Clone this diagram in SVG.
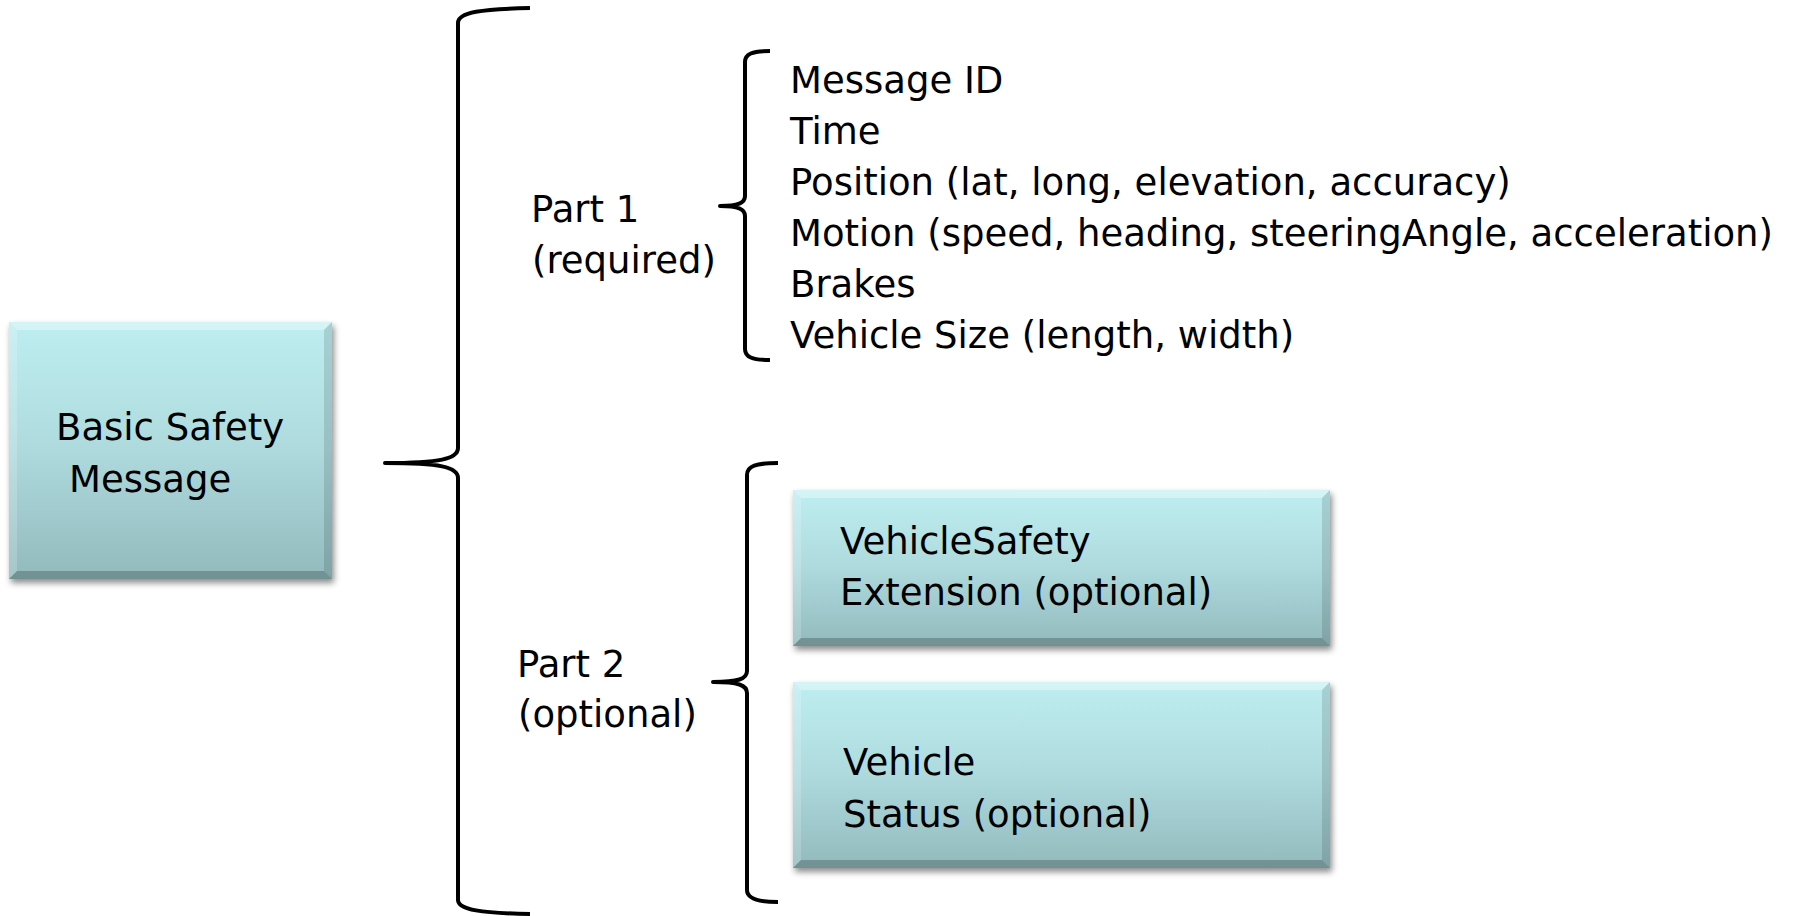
<svg xmlns="http://www.w3.org/2000/svg" width="1794" height="916" viewBox="0 0 1794 916">
  <defs>
    <linearGradient id="boxFill" x1="0" y1="0" x2="0" y2="1">
      <stop offset="0" stop-color="#BEEEF1"/>
      <stop offset="0.5" stop-color="#AEDADD"/>
      <stop offset="1" stop-color="#92BABD"/>
    </linearGradient>
    <filter id="shadow" x="-10%" y="-10%" width="120%" height="125%">
      <feDropShadow dx="2" dy="4" stdDeviation="3" flood-color="#000" flood-opacity="0.45"/>
    </filter>
  </defs>
  <style>
    .txt { font-family: "DejaVu Sans", Verdana, sans-serif; font-size: 37px; fill: #000; }
    .box { fill: url(#boxFill); filter: url(#shadow); }
    .bev-top { fill: #FFFFFF; fill-opacity: 0.35; }
    .bev-left { fill: #FFFFFF; fill-opacity: 0.18; }
    .bev-right { fill: #000000; fill-opacity: 0.12; }
    .bev-bottom { fill: #000000; fill-opacity: 0.22; }
    .brace { fill: none; stroke: #000; stroke-width: 4; stroke-linecap: butt; stroke-linejoin: round; }
  </style>
  <rect width="1794" height="916" fill="#FFFFFF"/>

  <g id="connectors">
    <path class="brace" d="M530,8 C482,9 458,12 458,23 L458,448 C458,459 440,463 385,463 C440,463 458,467 458,478 L458,900 C458,910 482,913 530,914"/>
    <path class="brace" d="M770,51 C752,51 745,54 745,62 L745,196 C745,203 738,206 720,206 C738,206 745,209 745,216 L745,349 C745,357 752,360 770,360"/>
    <path class="brace" d="M778,463 C756,463 747,466 747,475 L747,671 C747,679 738,682 713,682 C738,682 747,685 747,693 L747,890 C747,898 756,902 778,902"/>
  </g>

  <g id="node-bsm">
    <rect class="box" x="9" y="322" width="323" height="257"/>
    <polygon class="bev-top" points="9,322 332,322 324,330 17,330"/>
    <polygon class="bev-left" points="9,322 17,330 17,571 9,579"/>
    <polygon class="bev-right" points="332,322 332,579 324,571 324,330"/>
    <polygon class="bev-bottom" points="9,579 332,579 324,571 17,571"/>
    <text class="txt" x="56" y="440">Basic Safety</text>
    <text class="txt" x="69" y="492">Message</text>
  </g>

  <g id="label-part1">
    <text class="txt" x="531" y="222">Part 1</text>
    <text class="txt" x="532" y="273">(required)</text>
  </g>

  <g id="node-part1-fields">
    <text class="txt" x="790" y="93">Message ID</text>
    <text class="txt" x="790" y="144">Time</text>
    <text class="txt" x="790" y="195">Position (lat, long, elevation, accuracy)</text>
    <text class="txt" x="790" y="246">Motion (speed, heading, steeringAngle, acceleration)</text>
    <text class="txt" x="790" y="297">Brakes</text>
    <text class="txt" x="790" y="348">Vehicle Size (length, width)</text>
  </g>

  <g id="label-part2">
    <text class="txt" x="517" y="677">Part 2</text>
    <text class="txt" x="518" y="727">(optional)</text>
  </g>

  <g id="node-vse">
    <rect class="box" x="793" y="490" width="537" height="156"/>
    <polygon class="bev-top" points="793,490 1330,490 1322,498 801,498"/>
    <polygon class="bev-left" points="793,490 801,498 801,638 793,646"/>
    <polygon class="bev-right" points="1330,490 1330,646 1322,638 1322,498"/>
    <polygon class="bev-bottom" points="793,646 1330,646 1322,638 801,638"/>
    <text class="txt" x="840" y="554">VehicleSafety</text>
    <text class="txt" x="840" y="605">Extension (optional)</text>
  </g>

  <g id="node-vs">
    <rect class="box" x="793" y="682" width="537" height="186"/>
    <polygon class="bev-top" points="793,682 1330,682 1322,690 801,690"/>
    <polygon class="bev-left" points="793,682 801,690 801,860 793,868"/>
    <polygon class="bev-right" points="1330,682 1330,868 1322,860 1322,690"/>
    <polygon class="bev-bottom" points="793,868 1330,868 1322,860 801,860"/>
    <text class="txt" x="843" y="775">Vehicle</text>
    <text class="txt" x="843" y="827">Status (optional)</text>
  </g>
</svg>
